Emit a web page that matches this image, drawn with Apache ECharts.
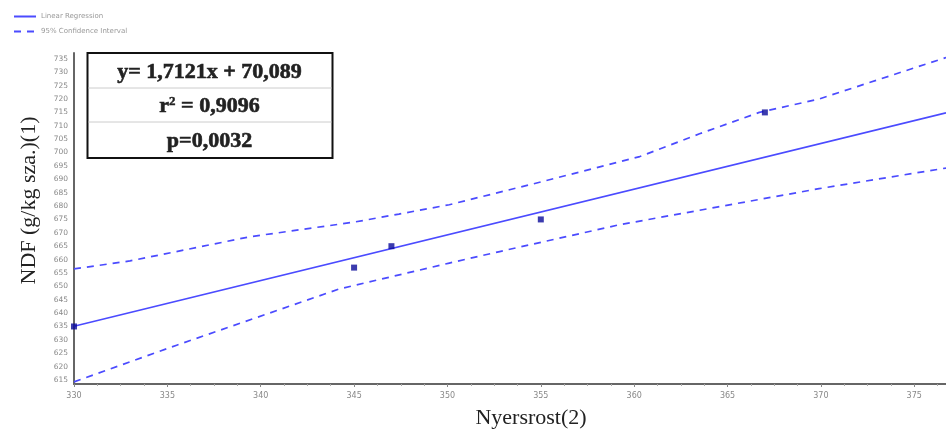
<!DOCTYPE html>
<html>
<head>
<meta charset="utf-8">
<script src="https://cdn.jsdelivr.net/npm/echarts@6/dist/echarts.min.js"></script>
<style>html,body{margin:0;padding:0;background:#fff;}#c{width:946px;height:431px;}</style>
</head>
<body>
<div id="c"></div>
<script>
// Observed data points
const pointX = [330, 345, 347, 355, 367];
const pointY = [635, 657, 665, 675, 715];
// Regression line endpoints
const regX = [330, 376.7];
const regY = [635.1, 714.8];
// 95% confidence band
const upperX = [330, 333, 339.4, 345, 347.4, 350.1, 355, 360.3, 363.5, 366.7, 369.9, 376.7];
const upperY = [656.5, 659.5, 668.5, 674, 677, 680.5, 689, 698.5, 707, 715, 720, 735.5];
const lowerX = [330, 335.5, 344.2, 350.1, 352.8, 359.2, 364.5, 369.9, 376.7];
const lowerY = [614.3, 628, 649, 658.7, 663, 673, 679.7, 686.5, 694.2];
// Tick labels
const yTicks = [615,620,625,630,635,640,645,650,655,660,665,670,675,680,685,690,695,700,705,710,715,720,725,730,735];
// Stats box text
const statLines = ['y= 1,7121x + 70,089', '{b|r}{s|2}{b| = 0,9096}', 'p=0,0032'];

const zip = (a, b) => a.map((v, i) => [v, b[i]]);
const lineColor = '#4b4bff';
const serif = '"Liberation Serif", "DejaVu Serif", serif';
const boxText = { fontFamily: 'Liberation Serif', fontWeight: 'bold', fontSize: 22, fill: '#222', stroke: '#222', lineWidth: 0.6 };

const chart = echarts.init(document.getElementById('c'));
chart.setOption({
  animation: false,
  backgroundColor: '#fff',
  grid: { left: 74, right: 0, top: 53, bottom: 47, outerBoundsMode: 'none' },
  legend: {
    orient: 'vertical', left: 8, top: 8, itemGap: 8, itemWidth: 22, itemHeight: 6,
    data: ['Linear Regression', '95% Confidence Interval'],
    itemStyle: { opacity: 0 },
    textStyle: { fontSize: 7, color: '#999', fontFamily: 'DejaVu Sans' }
  },
  xAxis: {
    type: 'value', min: 330, max: 376.7, interval: 5,
    name: 'Nyersrost(2)', nameLocation: 'middle', nameGap: 23,
    nameTextStyle: { fontFamily: serif, fontSize: 22, color: '#222', padding: [0, 0, 0, 42] },
    axisLine: { show: true, lineStyle: { color: '#666', width: 2 } },
    axisTick: { show: true, length: 3, lineStyle: { color: '#888' } },
    minorTick: { show: true, splitNumber: 4, length: 2, lineStyle: { color: '#aaa' } },
    axisLabel: { fontSize: 8, color: '#888', fontFamily: 'DejaVu Sans', margin: 8,
      showMaxLabel: false },
    splitLine: { show: false }
  },
  yAxis: {
    type: 'value', min: 613.5, max: 737.2,
    name: 'NDF (g/kg sza.)(1)', nameLocation: 'middle', nameGap: 34,
    nameTextStyle: { fontFamily: serif, fontSize: 22, color: '#222', padding: [0, 0, 0, 36] },
    axisLine: { show: true, lineStyle: { color: '#666', width: 2 } },
    axisTick: { show: false, customValues: yTicks },
    axisLabel: { fontSize: 7.5, color: '#888', fontFamily: 'DejaVu Sans', margin: 6, customValues: yTicks },
    splitLine: { show: false }
  },
  graphic: [{
    type: 'group', left: 86, top: 52,
    children: [
      { type: 'rect', shape: { x: 0, y: 0, width: 245, height: 105 },
        style: { fill: '#fff', stroke: '#111', lineWidth: 2 } },
      { type: 'line', shape: { x1: 1, y1: 35, x2: 244, y2: 35 }, style: { stroke: '#ccc', lineWidth: 1 } },
      { type: 'line', shape: { x1: 1, y1: 69, x2: 244, y2: 69 }, style: { stroke: '#ccc', lineWidth: 1 } },
      { type: 'text', x: 122, y: 19, style: Object.assign({ text: statLines[0], align: 'center', verticalAlign: 'middle' }, boxText) },
      { type: 'text', x: 122, y: 53, style: { text: statLines[1], align: 'center', verticalAlign: 'middle',
          rich: { b: Object.assign({ verticalAlign: 'bottom' }, boxText),
                  s: Object.assign({}, boxText, { fontSize: 13, lineWidth: 0.4, verticalAlign: 'top', padding: [0, 0, 8, 0] }) } } },
      { type: 'text', x: 122, y: 88, style: Object.assign({ text: statLines[2], align: 'center', verticalAlign: 'middle' }, boxText) }
    ]
  }],
  series: [
    { name: 'Linear Regression', type: 'line', data: zip(regX, regY), symbol: 'none',
      lineStyle: { color: lineColor, width: 1.7 }, itemStyle: { color: lineColor }, z: 3 },
    { name: '95% Confidence Interval', type: 'line', data: zip(upperX, upperY), symbol: 'none',
      lineStyle: { color: lineColor, width: 1.7, type: [7, 6] }, itemStyle: { color: lineColor } },
    { name: '95% Confidence Interval', type: 'line', data: zip(lowerX, lowerY), symbol: 'none',
      lineStyle: { color: lineColor, width: 1.7, type: [7, 6] }, itemStyle: { color: lineColor } },
    { name: 'Data', type: 'scatter', data: zip(pointX, pointY), symbol: 'rect', symbolSize: 6,
      itemStyle: { color: '#0a0a9a' }, z: 5 }
  ]
});
</script>
</body>
</html>
